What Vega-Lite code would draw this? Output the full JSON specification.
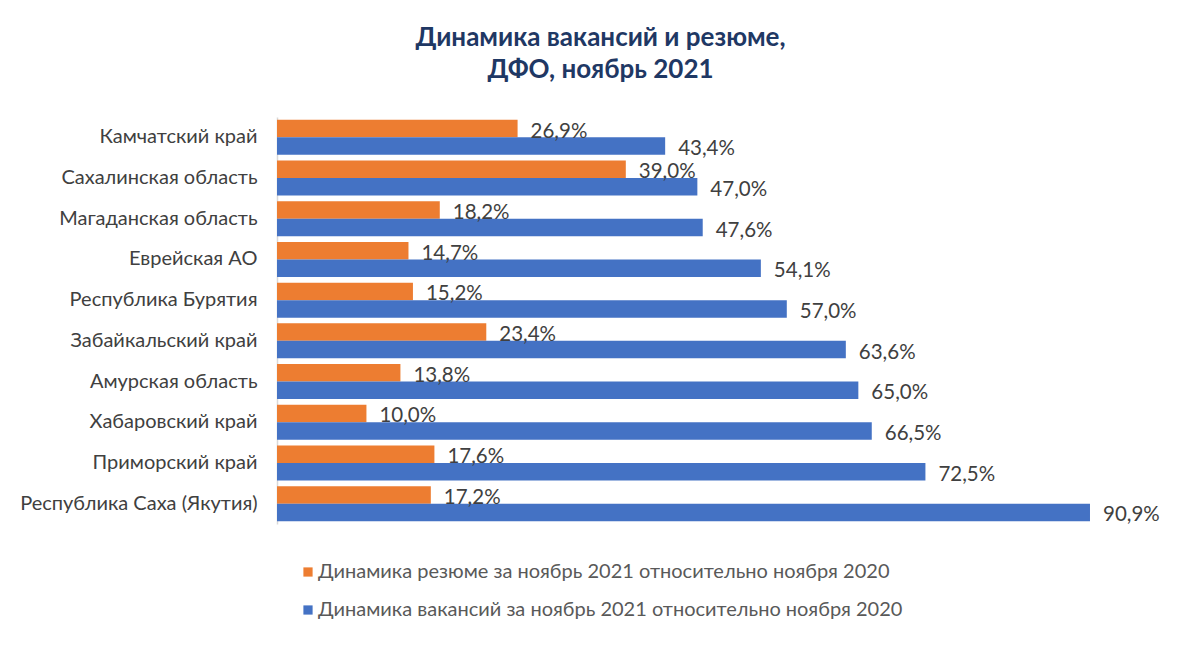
{
  "$schema": "https://vega.github.io/schema/vega-lite/v6.json",
  "autosize": {"type": "none"},
  "padding": {"left": 277, "top": 117, "right": 0, "bottom": 124},
  "width": 923,
  "height": 407,
  "background": "white",
  "title": {
    "text": ["Динамика вакансий и резюме,", "ДФО, ноябрь 2021"],
    "anchor": "middle",
    "dx": -138,
    "offset": 34,
    "font": "Lato",
    "fontSize": 26,
    "fontWeight": "bold",
    "color": "#1F3864",
    "lineHeight": 32
  },
  "config": {
    "locale": {"number": {"decimal": ",", "thousands": " ", "grouping": [3], "currency": ["", " ₽"]}},
    "view": {"stroke": null},
    "font": "Lato"
  },
  "data": {
    "values": [
      {"region": "Камчатский край", "series": "Динамика резюме за ноябрь 2021 относительно ноября 2020", "value": 0.269},
      {"region": "Камчатский край", "series": "Динамика вакансий за ноябрь 2021 относительно ноября 2020", "value": 0.434},
      {"region": "Сахалинская область", "series": "Динамика резюме за ноябрь 2021 относительно ноября 2020", "value": 0.390},
      {"region": "Сахалинская область", "series": "Динамика вакансий за ноябрь 2021 относительно ноября 2020", "value": 0.470},
      {"region": "Магаданская область", "series": "Динамика резюме за ноябрь 2021 относительно ноября 2020", "value": 0.182},
      {"region": "Магаданская область", "series": "Динамика вакансий за ноябрь 2021 относительно ноября 2020", "value": 0.476},
      {"region": "Еврейская АО", "series": "Динамика резюме за ноябрь 2021 относительно ноября 2020", "value": 0.147},
      {"region": "Еврейская АО", "series": "Динамика вакансий за ноябрь 2021 относительно ноября 2020", "value": 0.541},
      {"region": "Республика Бурятия", "series": "Динамика резюме за ноябрь 2021 относительно ноября 2020", "value": 0.152},
      {"region": "Республика Бурятия", "series": "Динамика вакансий за ноябрь 2021 относительно ноября 2020", "value": 0.570},
      {"region": "Забайкальский край", "series": "Динамика резюме за ноябрь 2021 относительно ноября 2020", "value": 0.234},
      {"region": "Забайкальский край", "series": "Динамика вакансий за ноябрь 2021 относительно ноября 2020", "value": 0.636},
      {"region": "Амурская область", "series": "Динамика резюме за ноябрь 2021 относительно ноября 2020", "value": 0.138},
      {"region": "Амурская область", "series": "Динамика вакансий за ноябрь 2021 относительно ноября 2020", "value": 0.650},
      {"region": "Хабаровский край", "series": "Динамика резюме за ноябрь 2021 относительно ноября 2020", "value": 0.100},
      {"region": "Хабаровский край", "series": "Динамика вакансий за ноябрь 2021 относительно ноября 2020", "value": 0.665},
      {"region": "Приморский край", "series": "Динамика резюме за ноябрь 2021 относительно ноября 2020", "value": 0.176},
      {"region": "Приморский край", "series": "Динамика вакансий за ноябрь 2021 относительно ноября 2020", "value": 0.725},
      {"region": "Республика Саха (Якутия)", "series": "Динамика резюме за ноябрь 2021 относительно ноября 2020", "value": 0.172},
      {"region": "Республика Саха (Якутия)", "series": "Динамика вакансий за ноябрь 2021 относительно ноября 2020", "value": 0.909}
    ]
  },
  "encoding": {
    "y": {
      "field": "region",
      "type": "nominal",
      "sort": ["Камчатский край", "Сахалинская область", "Магаданская область", "Еврейская АО", "Республика Бурятия", "Забайкальский край", "Амурская область", "Хабаровский край", "Приморский край", "Республика Саха (Якутия)"],
      "scale": {"paddingInner": 0.14, "paddingOuter": 0.07},
      "axis": {
        "title": null,
        "ticks": false,
        "labelFontSize": 20,
        "labelColor": "#404040",
        "labelPadding": 20,
        "labelLimit": 400,
        "domainColor": "#d9d9d9",
        "domainWidth": 1.5,
        "grid": false
      }
    },
    "yOffset": {
      "field": "series",
      "type": "nominal",
      "sort": ["Динамика резюме за ноябрь 2021 относительно ноября 2020", "Динамика вакансий за ноябрь 2021 относительно ноября 2020"],
      "scale": {"paddingInner": 0, "paddingOuter": 0}
    },
    "x": {
      "field": "value",
      "type": "quantitative",
      "scale": {"domain": [0, 1.032], "nice": false, "zero": true},
      "axis": null
    }
  },
  "layer": [
    {
      "mark": {"type": "bar"},
      "encoding": {
        "color": {
          "field": "series",
          "type": "nominal",
          "scale": {
            "domain": ["Динамика резюме за ноябрь 2021 относительно ноября 2020", "Динамика вакансий за ноябрь 2021 относительно ноября 2020"],
            "range": ["#ED7D31", "#4472C4"]
          },
          "legend": {
            "title": null,
            "orient": "none",
            "legendX": 21,
            "legendY": 445,
            "direction": "vertical",
            "symbolType": "square",
            "symbolSize": 85,
            "symbolStrokeWidth": 0,
            "labelFontSize": 20,
            "labelColor": "#595959",
            "labelOffset": 0,
            "labelLimit": 900,
            "rowPadding": 18
          }
        }
      }
    },
    {
      "mark": {"type": "text", "align": "left", "baseline": "middle", "dx": 13, "dy": 3, "fontSize": 20.5, "color": "#404040"},
      "encoding": {
        "text": {"field": "value", "type": "quantitative", "format": ".1%"}
      }
    }
  ]
}
